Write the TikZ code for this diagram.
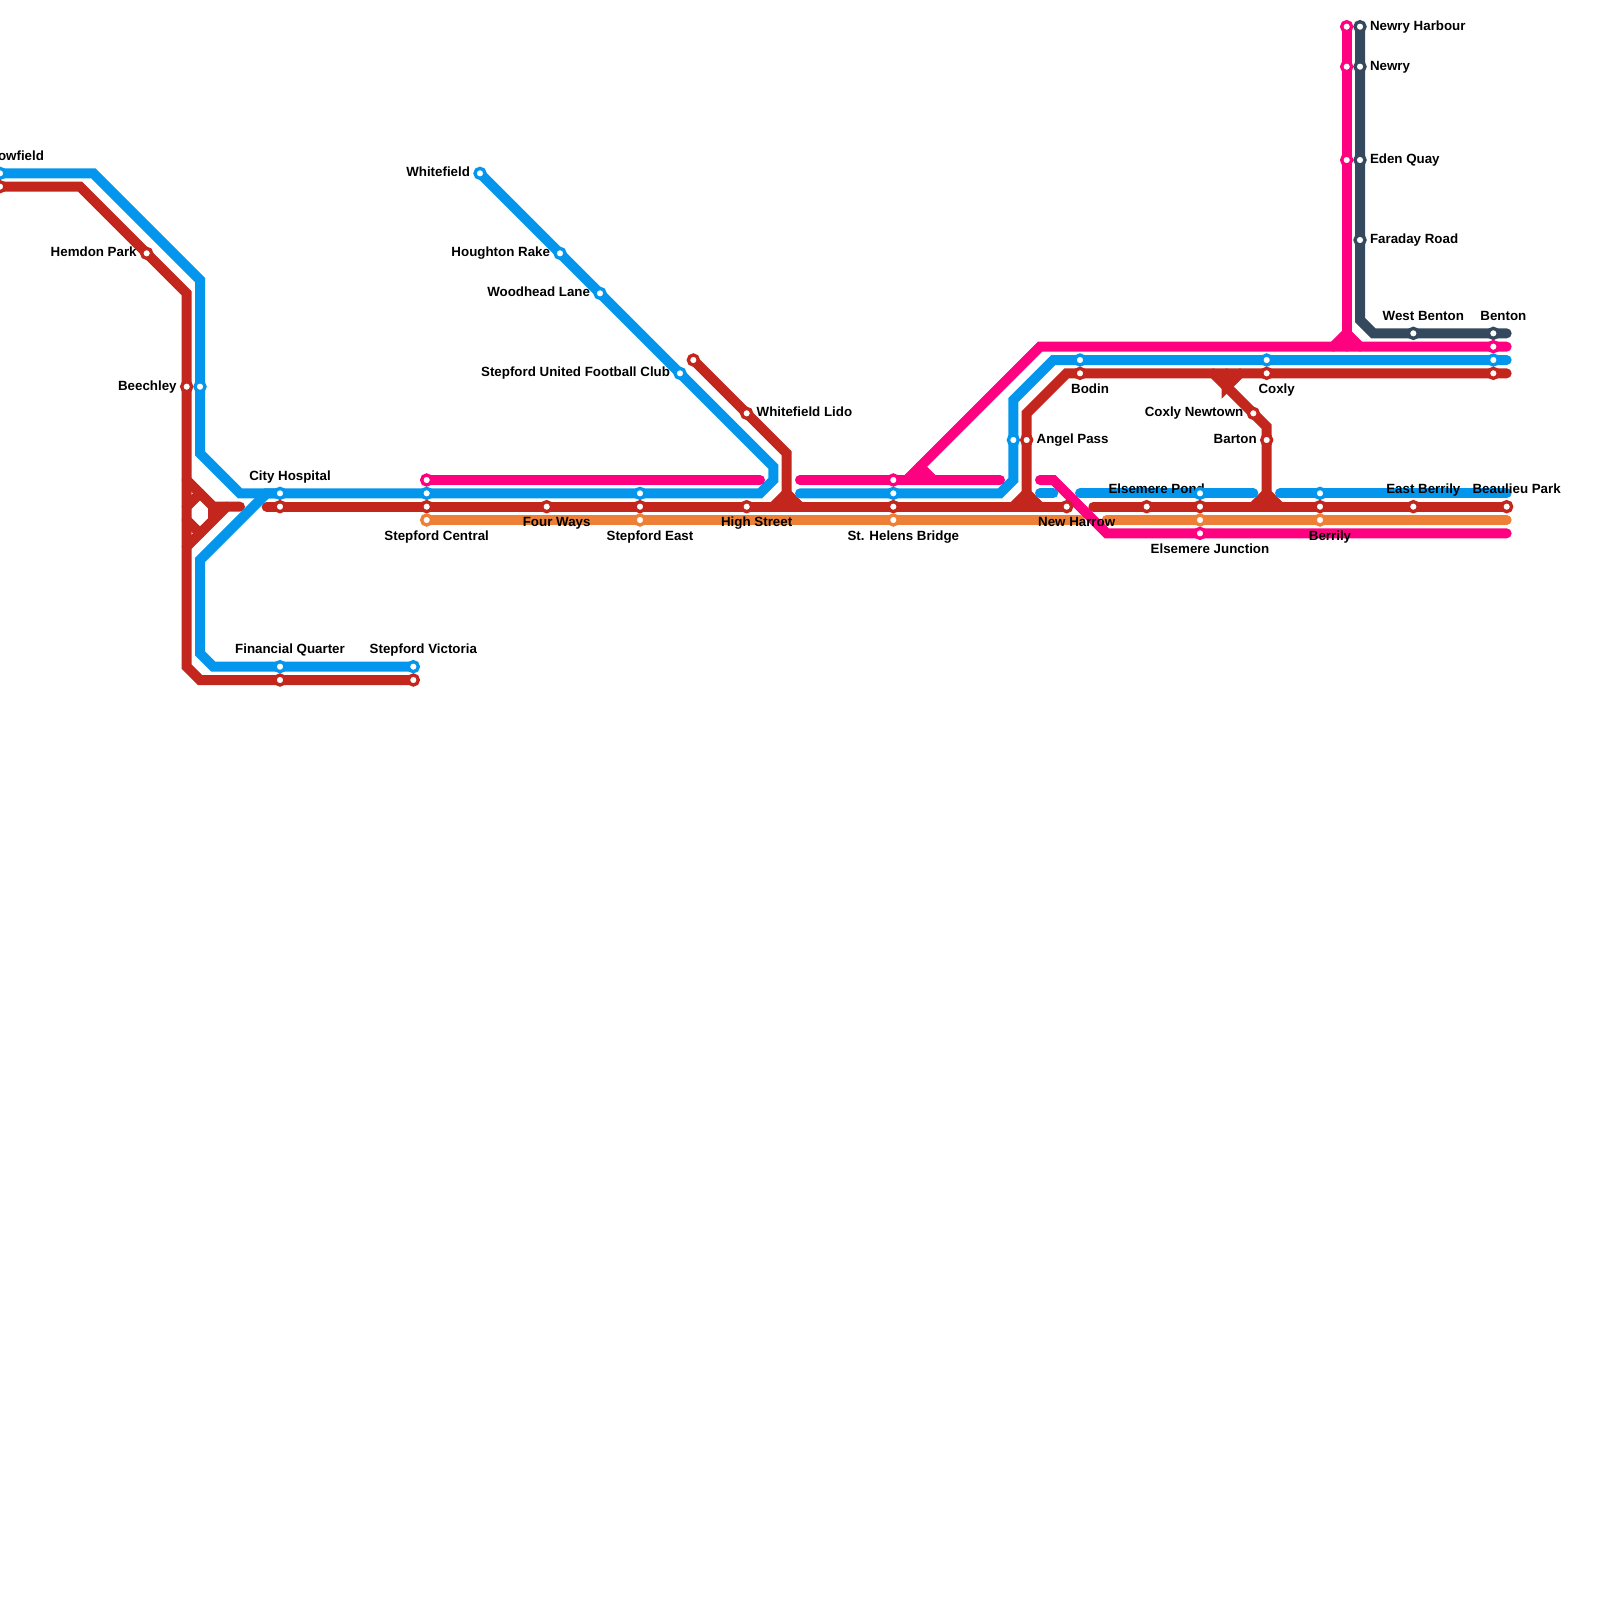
\documentclass[tikz,border=0pt]{standalone}
\usepackage{fontspec}
\setmainfont{Liberation Sans}
\definecolor{mblue}{HTML}{0496ED}
\definecolor{mred}{HTML}{C2261C}
\definecolor{mpink}{HTML}{FF0080}
\definecolor{morange}{HTML}{EE7F37}
\definecolor{mdark}{HTML}{34495E}
\pgfdeclarelayer{lines}
\pgfdeclarelayer{labels}
\pgfsetlayers{lines,labels,main}
\tikzset{
  stop/.style={circle,fill=white,line width=2.5pt,minimum size=7.5pt,inner sep=0pt,outer sep=0pt},
  route/.style={line width=7.5pt,line cap=round,line join=miter,miter limit=4},
  tx/.style={font=\bfseries\fontsize{10pt}{12pt}\selectfont,inner sep=0pt,outer sep=0pt,text=black},
  above lab/.style={tx,anchor=base,xshift=7.5pt,yshift=10pt},
  below lab/.style={tx,anchor=base,xshift=7.5pt,yshift=-15pt},
  left lab/.style={tx,anchor=base east,xshift=-7.5pt,yshift=-2.5pt},
  right lab/.style={tx,anchor=base west,xshift=7.5pt,yshift=-2.5pt}
}
\newcommand{\stn}[4]{\node[stop,draw=#4] (#1) at (#2,#3) {};}
\newcommand{\pt}[3]{\coordinate (#1) at (#2,#3);}
\begin{document}
\begin{tikzpicture}[x=10pt,y=-10pt]
\useasboundingbox (0,0) rectangle (120,120);
% stations
\stn{cowB}{0}{13}{mblue}\stn{cowR}{0}{14}{mred}
\stn{hemdon}{11}{19}{mred}
\stn{beechR}{14}{29}{mred}\stn{beechB}{15}{29}{mblue}
\stn{cityB}{21}{37}{mblue}\stn{cityR}{21}{38}{mred}
\stn{finB}{21}{50}{mblue}\stn{finR}{21}{51}{mred}
\stn{vicB}{31}{50}{mblue}\stn{vicR}{31}{51}{mred}
\stn{cenP}{32}{36}{mpink}\stn{cenB}{32}{37}{mblue}\stn{cenR}{32}{38}{mred}\stn{cenO}{32}{39}{morange}
\stn{whitefield}{36}{13}{mblue}
\stn{houghton}{42}{19}{mblue}
\stn{woodhead}{45}{22}{mblue}
\stn{united}{51}{28}{mblue}
\stn{fourways}{41}{38}{mred}
\stn{eastB}{48}{37}{mblue}\stn{eastR}{48}{38}{mred}\stn{eastO}{48}{39}{morange}
\stn{lidoEnd}{52}{27}{mred}
\stn{lido}{56}{31}{mred}
\stn{high}{56}{38}{mred}
\stn{helP}{67}{36}{mpink}\stn{helB}{67}{37}{mblue}\stn{helR}{67}{38}{mred}\stn{helO}{67}{39}{morange}
\stn{angelB}{76}{33}{mblue}\stn{angelR}{77}{33}{mred}
\stn{harrow}{80}{38}{mred}
\stn{bodinB}{81}{27}{mblue}\stn{bodinR}{81}{28}{mred}
\stn{pond}{86}{38}{mred}
\stn{junB}{90}{37}{mblue}\stn{junR}{90}{38}{mred}\stn{junO}{90}{39}{morange}\stn{junP}{90}{40}{mpink}
\stn{newtown}{94}{31}{mred}
\stn{coxlyB}{95}{27}{mblue}\stn{coxlyR}{95}{28}{mred}
\stn{barton}{95}{33}{mred}
\stn{berB}{99}{37}{mblue}\stn{berR}{99}{38}{mred}\stn{berO}{99}{39}{morange}
\stn{harbP}{101}{2}{mpink}\stn{harbD}{102}{2}{mdark}
\stn{newryP}{101}{5}{mpink}\stn{newryD}{102}{5}{mdark}
\stn{edenP}{101}{12}{mpink}\stn{edenD}{102}{12}{mdark}
\stn{faraday}{102}{18}{mdark}
\stn{wbenton}{106}{25}{mdark}
\stn{eberrily}{106}{38}{mred}
\stn{bentD}{112}{25}{mdark}\stn{bentP}{112}{26}{mpink}\stn{bentB}{112}{27}{mblue}\stn{bentR}{112}{28}{mred}
\stn{beaulieu}{113}{38}{mred}
% bends and line ends
\pt{bA}{7}{13}\pt{bB}{15}{21}\pt{bC}{15}{34}\pt{bD}{18}{37}
\pt{bE}{15}{42}\pt{bF}{15}{49}\pt{bG}{16}{50}\pt{bH}{20}{37}
\pt{bI}{58}{35}\pt{bJ}{58}{36}\pt{bK}{57}{37}
\pt{bL}{60}{37}\pt{bM}{75}{37}\pt{bN}{76}{36}\pt{bO}{76}{30}\pt{bP}{79}{27}\pt{bQ}{113}{27}
\pt{bR}{78}{37}\pt{bS}{79}{37}\pt{bT}{81}{37}\pt{bU}{94}{37}\pt{bV}{96}{37}\pt{bW}{113}{37}
\pt{rA}{6}{14}\pt{rB}{14}{22}\pt{rC}{14}{50}\pt{rD}{15}{51}
\pt{rE}{14}{36}\pt{rF}{16}{38}\pt{rG}{14}{41}\pt{rH}{17}{38}\pt{rI}{18}{38}\pt{rJ}{16}{39}
\pt{rE2}{14}{38}\pt{rF2}{15}{37}\pt{rG2}{14}{39}\pt{rH2}{15}{40}
\pt{rK}{20}{38}\pt{rL}{59}{34}\pt{rM}{59}{37}\pt{rMb}{59}{38}\pt{rN}{58}{38}\pt{rO}{60}{38}
\pt{rP}{77}{37}\pt{rPb}{77}{38}\pt{rQ}{77}{31}\pt{rR}{80}{28}\pt{rS}{113}{28}\pt{rT}{76}{38}\pt{rU}{78}{38}
\pt{rV}{82}{38}\pt{rW}{91}{28}\pt{rX}{95}{32}\pt{rY}{95}{37}\pt{rYb}{95}{38}\pt{rZ}{92}{29}\pt{rZb}{92}{28}
\pt{rAA}{93}{28}\pt{rAB}{94}{38}\pt{rAC}{96}{38}
\pt{pA}{57}{36}\pt{pB}{60}{36}\pt{pC}{75}{36}\pt{pD}{68}{36}\pt{pE}{78}{26}\pt{pF}{113}{26}
\pt{pG}{69}{35}\pt{pGb}{69}{36}\pt{pH}{70}{36}\pt{pI}{78}{36}\pt{pJ}{79}{36}\pt{pK}{83}{40}\pt{pL}{113}{40}
\pt{pM}{101}{25}\pt{pMb}{101}{26}\pt{pN}{100}{26}\pt{pO}{102}{26}
\pt{oA}{81}{39}\pt{oB}{83}{39}\pt{oC}{113}{39}
\pt{dA}{102}{24}\pt{dB}{103}{25}\pt{dC}{113}{25}
\begin{pgfonlayer}{lines}
% orange
\draw[route,morange] (cenO.center) -- (oA);
\draw[route,morange] (oB) -- (oC);
% red
\draw[route,mred] (cowR.center) -- (rA) -- (rB) -- (rC) -- (rD) -- (vicR.center);
\draw[route,mred] (rE) -- (rF) -- (rI);
\draw[route,mred] (rG) -- (rH);
\draw[route,mred] (rF) -- (rJ);
\draw[route,mred] (rE2) -- (rF2);
\draw[route,mred] (rG2) -- (rH2);
\draw[route,mred] (rK) -- (harrow.center);
\draw[route,mred] (rV) -- (beaulieu.center);
\draw[route,mred] (lidoEnd.center) -- (rL) -- (rMb);
\draw[route,mred] (rN) -- (rM) -- (rO);
\draw[route,mred] (rT) -- (rP) -- (rU);
\draw[route,mred] (rPb) -- (rQ) -- (rR) -- (rS);
\draw[route,mred] (rW) -- (rX) -- (rYb);
\draw[route,mred] (rZb) -- (rZ) -- (rAA);
\draw[route,mred] (rAB) -- (rY) -- (rAC);
% blue
\draw[route,mblue] (cowB.center) -- (bA) -- (bB) -- (bC) -- (bD) -- (bK) -- (bJ) -- (bI) -- (whitefield.center);
\draw[route,mblue] (vicB.center) -- (bG) -- (bF) -- (bE) -- (bH) -- (cityB.center);
\draw[route,mblue] (bL) -- (bM) -- (bN) -- (bO) -- (bP) -- (bQ);
\draw[route,mblue] (bR) -- (bS);
\draw[route,mblue] (bT) -- (bU);
\draw[route,mblue] (bV) -- (bW);
% pink
\draw[route,mpink] (cenP.center) -- (pA);
\draw[route,mpink] (pB) -- (pC);
\draw[route,mpink] (pD) -- (pE) -- (pF);
\draw[route,mpink] (pG) -- (pH);
\draw[route,mpink] (pG) -- (pGb);
\draw[route,mpink] (pI) -- (pJ) -- (pK) -- (pL);
\draw[route,mpink] (harbP.center) -- (pMb);
\draw[route,mpink] (pN) -- (pM) -- (pO);
% dark
\draw[route,mdark] (harbD.center) -- (dA) -- (dB) -- (dC);
\end{pgfonlayer}
\begin{pgfonlayer}{labels}
\node[tx,anchor=base east,xshift=33pt,yshift=10pt] (tCow) at (cowB) {owfield};
\node[left lab] (tHemdon) at (hemdon) {Hemdon Park};
\node[left lab] (tBeech) at (beechR) {Beechley};
\node[above lab] (tCity) at (cityB) {City Hospital};
\node[above lab] (tFin) at (finB) {Financial Quarter};
\node[above lab] (tVic) at (vicB) {Stepford Victoria};
\node[below lab] (tCen) at (cenO) {Stepford Central};
\node[left lab] (tWhite) at (whitefield) {Whitefield};
\node[left lab] (tHough) at (houghton) {Houghton Rake};
\node[left lab] (tWood) at (woodhead) {Woodhead Lane};
\node[left lab] (tUnited) at (united) {Stepford United Football Club};
\node[below lab] (tFour) at (fourways) {Four Ways};
\node[below lab] (tEast) at (eastO) {Stepford East};
\node[right lab] (tLido) at (lido) {Whitefield Lido};
\node[below lab] (tHigh) at (high) {High Street};
\node[below lab] (tHel) at (helO) {St. Helens Bridge};
\node[right lab] (tAngel) at (angelR) {Angel Pass};
\node[below lab] (tHarrow) at (harrow) {New Harrow};
\node[below lab] (tBodin) at (bodinR) {Bodin};
\node[above lab] (tPond) at (pond) {Elsemere Pond};
\node[below lab] (tJun) at (junP) {Elsemere Junction};
\node[left lab] (tNewtown) at (newtown) {Coxly Newtown};
\node[below lab] (tCoxly) at (coxlyR) {Coxly};
\node[left lab] (tBarton) at (barton) {Barton};
\node[below lab] (tBer) at (berO) {Berrily};
\node[right lab] (tHarb) at (harbD) {Newry Harbour};
\node[right lab] (tNewry) at (newryD) {Newry};
\node[right lab] (tEden) at (edenD) {Eden Quay};
\node[right lab] (tFar) at (faraday) {Faraday Road};
\node[above lab] (tWB) at (wbenton) {West Benton};
\node[above lab] (tB) at (bentD) {Benton};
\node[above lab] (tEB) at (eberrily) {East Berrily};
\node[above lab] (tBeau) at (beaulieu) {Beaulieu Park};
\end{pgfonlayer}
\end{tikzpicture}
\end{document}
